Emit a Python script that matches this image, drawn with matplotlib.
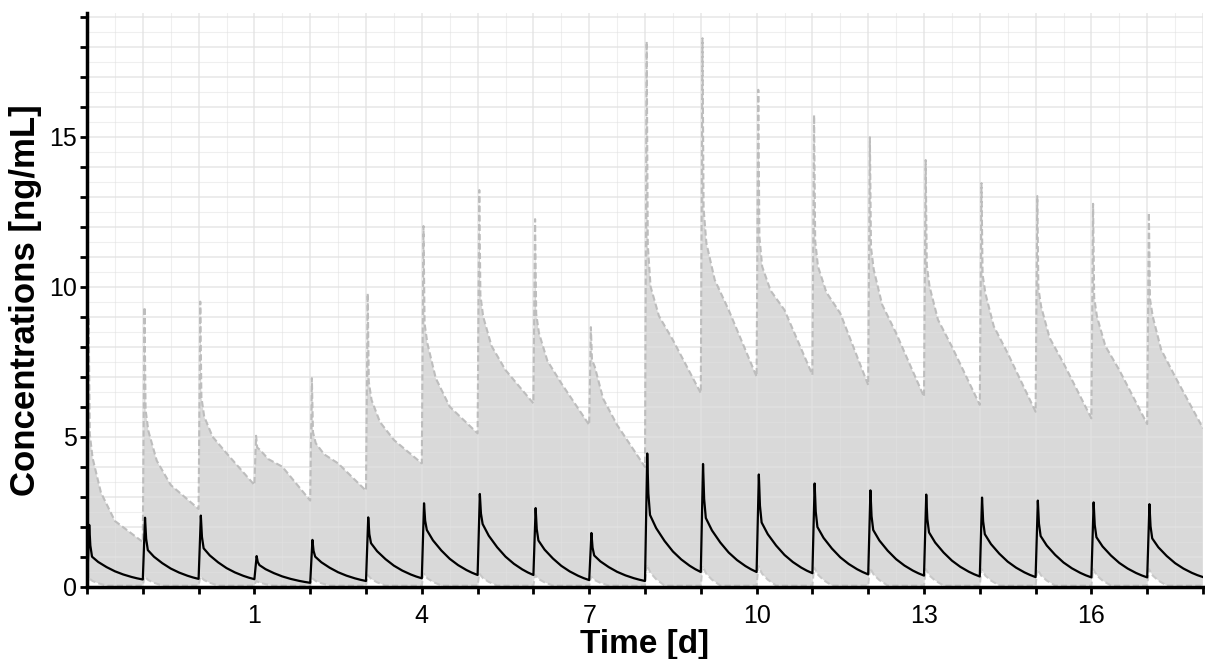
import numpy as np
import matplotlib
matplotlib.use("Agg")
import matplotlib.pyplot as plt
from matplotlib.ticker import MultipleLocator

plt.rcParams['font.family'] = ['Liberation Sans', 'DejaVu Sans']

# dosing days (one dose per day)
dose_days = list(range(-2, 18))

# median concentration: peak, knee (end of fast drop), trough before next dose
med_peak = [2.07, 2.31, 2.38, 1.03, 1.57, 2.32, 2.79, 3.10, 2.63, 1.80,
            4.45, 4.10, 3.75, 3.45, 3.22, 3.08, 2.98, 2.88, 2.82, 2.76]
med_knee = [1.01, 1.23, 1.29, 0.73, 1.01, 1.46, 1.90, 2.10, 1.55, 1.05,
            2.40, 2.30, 2.15, 2.00, 1.90, 1.82, 1.76, 1.70, 1.66, 1.62]
med_trough = [0.25, 0.27, 0.26, 0.14, 0.20, 0.29, 0.40, 0.40, 0.23, 0.20,
              0.50, 0.50, 0.46, 0.42, 0.38, 0.35, 0.33, 0.32, 0.32, 0.33]
# decay of the median between knee and trough (fraction of knee-trough span)
med_t = [0.2, 0.35, 0.5, 0.65, 0.8, 0.9]
med_shape = [0.77, 0.545, 0.36, 0.22, 0.11, 0.05]

# upper band (dashed): peak, knee, mid-day value, trough
up_peak = [9.0, 9.33, 9.51, 5.04, 6.96, 9.79, 12.03, 13.23, 12.26, 8.66,
           18.18, 18.29, 16.57, 15.73, 14.99, 14.23, 13.46, 13.03, 12.77, 12.48]
up_knee = [4.3, 5.2, 5.68, 4.57, 4.79, 6.23, 8.12, 9.01, 8.46, 7.34,
           10.01, 11.46, 10.68, 10.68, 10.57, 10.01, 9.79, 9.34, 9.01, 9.01]
up_mid = [2.2, 3.4, 4.46, 4.01, 4.12, 4.9, 6.01, 7.23, 6.79, 5.4,
          8.23, 9.23, 9.23, 9.12, 8.46, 8.01, 7.79, 7.46, 7.23, 7.01]
up_trough = [1.5, 2.6, 3.4, 2.88, 3.21, 4.12, 5.12, 6.12, 5.4, 4.0,
             6.46, 7.01, 7.07, 6.73, 6.34, 6.07, 5.84, 5.62, 5.43, 5.29]

# lower band (dashed): short peak after each dose, then near zero
low_peak = [0.3, 0.35, 0.35, 0.2, 0.3, 0.4, 0.45, 0.45, 0.4, 0.35,
            0.75, 0.7, 0.7, 0.65, 0.65, 0.6, 0.6, 0.6, 0.6, 0.6]
low_base = 0.05
low_t = [0.0, 0.03, 0.1, 0.2, 0.35]
low_shape = [0.0, 1.0, 0.6, 0.3, 0.0]


def median_curve():
    xs, ys = [], []
    prev = 0.0
    for i, d in enumerate(dose_days):
        pk, kn, tr = med_peak[i], med_knee[i], med_trough[i]
        xs += [d, d + 0.04, d + 0.06, d + 0.09]
        ys += [prev, pk, kn + 0.35 * (pk - kn), kn]
        for t, s in zip(med_t, med_shape):
            xs.append(d + t)
            ys.append(tr + s * (kn - tr))
        prev = tr
    xs.append(dose_days[-1] + 1)
    ys.append(prev)
    return np.array(xs), np.array(ys)


def upper_curve():
    xs, ys = [], []
    prev = 0.0
    for i, d in enumerate(dose_days):
        pk, kn, md = up_peak[i], up_knee[i], up_mid[i]
        xs += [d, d + 0.03, d + 0.05, d + 0.1, d + 0.25, d + 0.5]
        ys += [prev, pk, kn + 0.17 * (pk - kn), kn, md + 0.45 * (kn - md), md]
        prev = up_trough[i]
    xs.append(dose_days[-1] + 1)
    ys.append(prev)
    return np.array(xs), np.array(ys)


def lower_curve():
    xs, ys = [], []
    for i, d in enumerate(dose_days):
        for t, s in zip(low_t, low_shape):
            xs.append(d + t)
            ys.append(low_base + s * (low_peak[i] - low_base))
    xs.append(dose_days[-1] + 1)
    ys.append(low_base)
    return np.array(xs), np.array(ys)


xm, ym = median_curve()
xu, yu = upper_curve()
xl, yl = lower_curve()

fig = plt.figure(figsize=(12.05, 6.59), dpi=100)
ax = fig.add_axes([87 / 1205, 1 - 587 / 659, (1203 - 87) / 1205, (587 - 13) / 659])

# shaded band between lower and upper curves
ax.fill(np.r_[xu, xl[::-1]], np.r_[yu, yl[::-1]], color='#d9d9d9', lw=0, zorder=1)
ax.plot(xu, yu, color='#bdbdbd', lw=1.5, ls=(0, (3, 1.5)), zorder=2)
ax.plot(xl, yl, color='#c8c8c8', lw=1.5, ls=(0, (3, 1.5)), zorder=2)
ax.plot(xm, ym, color='black', lw=1.6, zorder=3)

ax.set_xlim(-2, 18)
ax.set_ylim(0, 19.13)

xt = list(range(-2, 19))
ax.set_xticks(xt)
ax.set_xticklabels([str(v) if (v - 1) % 3 == 0 and v > 0 else '' for v in xt])
yt = list(range(0, 20))
ax.set_yticks(yt)
ax.set_yticklabels([str(v) if v % 5 == 0 else '' for v in yt])
ax.xaxis.set_minor_locator(MultipleLocator(0.5))
ax.yaxis.set_minor_locator(MultipleLocator(0.5))

ax.set_axisbelow('line')
ax.grid(which='major', color='#e2e2e2', lw=1.2, alpha=0.75)
ax.grid(which='minor', color='#e2e2e2', lw=0.8, alpha=0.55)

ax.tick_params(which='major', direction='out', length=5, width=2, color='black',
               labelsize=18, labelcolor='black')
ax.tick_params(axis='x', which='major', pad=7)
ax.tick_params(axis='y', which='major', pad=2)
ax.tick_params(which='minor', length=0)

for s in ['top', 'right']:
    ax.spines[s].set_visible(False)
for s in ['left', 'bottom']:
    ax.spines[s].set_linewidth(2.5)
    ax.spines[s].set_color('black')

ax.set_xlabel('Time [d]', fontsize=24, fontweight='bold', labelpad=1)
ax.set_ylabel('Concentrations [ng/mL]', fontsize=25, fontweight='bold', labelpad=5)

fig.savefig('out.png', dpi=100)
